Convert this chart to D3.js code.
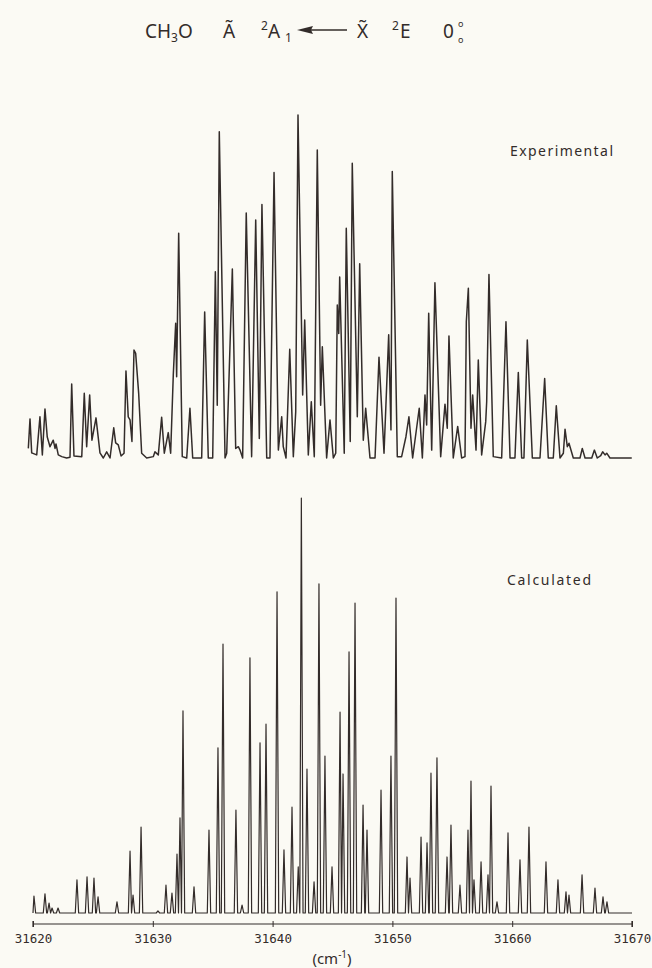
<!DOCTYPE html>
<html>
<head>
<meta charset="utf-8">
<script src="https://cdn.jsdelivr.net/npm/d3@7"></script>
<style>
  body { margin: 0; background: #fbfaf4; }
  svg { display: block; }
</style>
</head>
<body>
<script>
// experimental trace (peaks and valleys), cm-1
var expWave = [31619.61, 31619.75, 31619.89, 31620.31, 31620.58, 31620.78, 31621.00, 31621.19, 31621.42, 31621.69,
  31621.84, 31621.92, 31622.11, 31622.40, 31622.81, 31623.09, 31623.23, 31623.42, 31624.07, 31624.28,
  31624.48, 31624.73, 31624.92, 31625.26, 31625.59, 31625.87, 31626.15, 31626.43, 31626.74, 31626.90,
  31627.12, 31627.35, 31627.60, 31627.76, 31627.95, 31628.10, 31628.26, 31628.43, 31628.57, 31628.82,
  31629.07, 31629.49, 31630.04, 31630.18, 31630.46, 31630.74, 31630.96, 31631.29, 31631.49, 31631.71,
  31631.91, 31631.99, 31632.16, 31632.46, 31632.83, 31633.10, 31633.33, 31634.08, 31634.33, 31634.63,
  31635.00, 31635.22, 31635.38, 31635.55, 31636.03, 31636.17, 31636.64, 31636.92, 31637.14, 31637.28,
  31637.50, 31637.80, 31638.25, 31638.59, 31638.89, 31639.11, 31639.51, 31639.78, 31640.12, 31640.48,
  31640.76, 31640.89, 31641.12, 31641.43, 31641.73, 31641.93, 31642.12, 31642.51, 31642.68, 31642.98,
  31643.23, 31643.48, 31643.73, 31644.01, 31644.15, 31644.51, 31644.79, 31645.07, 31645.27, 31645.40,
  31645.52, 31645.60, 31645.98, 31646.15, 31646.48, 31646.65, 31647.07, 31647.27, 31647.57, 31647.77,
  31648.13, 31648.55, 31648.88, 31649.30, 31649.69, 31649.88, 31649.99, 31650.41, 31650.77, 31651.13,
  31651.38, 31651.69, 31652.24, 31652.50, 31652.72, 31652.86, 31653.03, 31653.28, 31653.55, 31654.03,
  31654.39, 31654.58, 31654.72, 31655.08, 31655.45, 31655.78, 31656.06, 31656.17, 31656.34, 31656.56,
  31656.70, 31656.98, 31657.17, 31657.45, 31657.79, 31657.87, 31658.06, 31658.42, 31659.12, 31659.48,
  31659.82, 31660.23, 31660.51, 31660.79, 31660.98, 31661.26, 31661.68, 31662.32, 31662.71, 31663.01,
  31663.43, 31663.68, 31663.99, 31664.27, 31664.41, 31664.60, 31664.74, 31665.10, 31665.66, 31665.85,
  31666.08, 31666.64, 31666.86, 31667.10, 31667.39, 31667.55, 31667.75, 31667.89, 31668.16, 31669.98];
var expInt = [2.8, 11.4, 1.5, 0.9, 12.0, 0.9, 14.3, 6.1, 3.3, 5.2,
  2.8, 4.1, 0.9, 0.4, 0, 0.2, 21.6, 0.6, 0.4, 18.9,
  3.3, 18.4, 5.2, 11.7, 1.5, 0, 1.8, 0, 8.8, 4.4,
  3.8, 0.6, 1.4, 25.4, 12.0, 11.1, 4.8, 31.5, 30.5, 18.9,
  1.4, 0, 0.4, 1.8, 0.9, 11.9, 1.4, 7.4, 1.4, 24.2,
  39.3, 23.7, 65.5, 0.4, 0, 14.5, 0, 0, 42.6, 0,
  0, 54.3, 15.4, 95.1, 0, 1.4, 55.1, 2.8, 3.3, 2.3,
  0, 71.4, 0.4, 69.4, 5.7, 73.9, 0, 0, 83.2, 2.3,
  12.0, 3.3, 0, 31.7, 0.4, 13.5, 100, 18.4, 40.2, 0.9,
  16.4, 0.4, 89.8, 15.4, 32.4, 0, 11.1, 0, 1.4, 44.6,
  36.3, 52.8, 1.4, 67.0, 4.8, 85.9, 12.0, 56.6, 5.2, 14.5,
  0, 0, 29.4, 1.4, 35.9, 8.2, 83.5, 0.4, 0.4, 6.2,
  12.0, 0, 14.5, 0, 18.4, 9.6, 42.2, 2.3, 51.1, 0.4,
  15.7, 8.7, 35.6, 0, 9.2, 0, 0.4, 39.7, 49.5, 8.7,
  18.4, 2.3, 28.6, 0.9, 10.6, 16.4, 53.5, 0.4, 0, 39.7,
  0, 0, 24.9, 0, 0, 34.4, 0, 0, 23.2, 0,
  0, 15.2, 0, 1.4, 8.4, 3.3, 4.3, 0, 0, 2.8,
  0, 0, 2.3, 0, 0.7, 1.8, 0.9, 1.4, 0, 0];

// calculated spectrum: line positions (cm-1) and relative heights
var calcWave = [31620.08, 31621.00, 31621.34, 31621.59, 31622.09, 31623.67, 31624.51, 31625.09, 31625.43, 31627.01,
  31628.10, 31628.35, 31629.02, 31630.43, 31631.10, 31631.60, 31632.02, 31632.27, 31632.52, 31633.44,
  31634.69, 31635.44, 31635.86, 31636.94, 31637.45, 31638.11, 31638.95, 31639.45, 31640.37, 31640.95,
  31641.62, 31642.14, 31642.40, 31642.87, 31643.46, 31643.87, 31644.37, 31644.96, 31645.63, 31645.88,
  31646.38, 31646.88, 31647.55, 31647.88, 31649.05, 31649.88, 31650.30, 31651.22, 31651.47, 31652.39,
  31652.89, 31653.22, 31653.72, 31654.56, 31654.89, 31655.64, 31656.31, 31656.56, 31656.81, 31657.40,
  31657.98, 31658.23, 31658.73, 31659.65, 31660.65, 31661.40, 31662.82, 31663.82, 31664.49, 31664.74,
  31665.83, 31666.91, 31667.58, 31667.91];
var calcInt = [4.1, 4.6, 2.4, 1.2, 1.2, 8.0, 8.7, 8.4, 3.9, 2.7,
  14.9, 4.3, 20.7, 0.5, 6.7, 4.8, 14.2, 22.9, 48.7, 6.3,
  20.0, 39.8, 64.8, 24.8, 1.9, 61.5, 41.0, 45.5, 77.4, 15.2,
  25.5, 11.1, 100, 34.7, 7.5, 79.3, 37.8, 11.1, 48.4, 33.5,
  62.9, 74.7, 26.0, 20.0, 29.6, 37.8, 75.9, 13.5, 8.4, 18.3,
  16.9, 33.7, 37.4, 13.5, 21.2, 6.7, 20.0, 31.8, 8.0, 12.3,
  9.2, 30.6, 2.7, 19.3, 12.8, 20.7, 12.3, 8.0, 5.1, 4.3,
  9.2, 6.0, 3.9, 2.7];

var xTicks = [31620, 31630, 31640, 31650, 31660, 31670];
var labels = ["Experimental", "Calculated"];

var W = 652, H = 968;
var ink = "#332c2a";

var svg = d3.select("body").append("svg")
    .attr("width", W)
    .attr("height", H);

svg.append("rect").attr("width", W).attr("height", H).attr("fill", "#fbfaf4");

var x = d3.scaleLinear().domain([31620, 31670]).range([33, 632]);
var yExp = d3.scaleLinear().domain([0, 100]).range([458, 115]);
var yCalc = d3.scaleLinear().domain([0, 100]).range([913, 498]);

// experimental trace
var expPts = d3.zip(expWave, expInt);
svg.append("path")
    .datum(expPts)
    .attr("fill", "none")
    .attr("stroke", ink)
    .attr("stroke-width", 1.5)
    .attr("stroke-linejoin", "round")
    .attr("d", d3.line().x(function (d) { return x(d[0]); }).y(function (d) { return yExp(d[1]); }));

// calculated trace: each line drawn as a narrow peak sitting on the baseline
var hw = 0.14;
var calcPts = [[31620, 0]];
var lines = d3.zip(calcWave, calcInt);
lines.forEach(function (d, i) {
    var prev = lines[i - 1], next = lines[i + 1];
    if (!prev || d[0] - prev[0] >= 2 * hw)
        calcPts.push([Math.max(31620, d[0] - hw), 0]);
    calcPts.push(d);
    if (next && next[0] - d[0] < 2 * hw)
        calcPts.push([(d[0] + next[0]) / 2, 0]);
    else
        calcPts.push([d[0] + hw, 0]);
});
calcPts.push([31670, 0]);

svg.append("path")
    .datum(calcPts)
    .attr("fill", "none")
    .attr("stroke", ink)
    .attr("stroke-width", 1.2)
    .attr("stroke-linejoin", "round")
    .attr("d", d3.line().x(function (d) { return x(d[0]); }).y(function (d) { return yCalc(d[1]); }));

// axis
var axis = svg.append("g")
    .attr("transform", "translate(0,924)")
    .call(d3.axisBottom(x)
        .tickValues(xTicks)
        .tickFormat(d3.format("d"))
        .tickSize(3)
        .tickSizeOuter(3)
        .tickPadding(7));
axis.select(".domain").attr("stroke", ink).attr("stroke-width", 1.2).attr("d", "M33,-3V3V0H632V-3V3");
axis.selectAll(".tick line").attr("stroke", ink).attr("y1", -3).attr("y2", 3);
axis.selectAll(".tick text")
    .attr("fill", ink)
    .style("font-family", "'DejaVu Sans Mono', monospace")
    .style("font-size", "12.5px");

var unit = svg.append("text")
    .attr("x", 332)
    .attr("y", 964)
    .attr("text-anchor", "middle")
    .attr("fill", ink)
    .style("font-family", "'Noto Sans', sans-serif")
    .style("font-size", "15px");
unit.append("tspan").text("(cm");
unit.append("tspan").attr("dy", -6).style("font-size", "10px").text("-1");
unit.append("tspan").attr("dy", 6).text(")");

// trace labels
svg.append("text").attr("x", 510).attr("y", 156).attr("textLength", 103)
    .attr("fill", ink).style("font-family", "'Noto Sans', sans-serif").style("font-size", "14px")
    .text(labels[0]);
svg.append("text").attr("x", 507).attr("y", 585).attr("textLength", 84)
    .attr("fill", ink).style("font-family", "'Noto Sans', sans-serif").style("font-size", "14px")
    .text(labels[1]);

// title
var tf = "'Noto Sans', sans-serif";
var title = svg.append("g").attr("fill", ink).style("font-family", tf).style("font-size", "19px");
var t1 = title.append("text").attr("x", 145).attr("y", 38);
t1.append("tspan").text("CH");
t1.append("tspan").attr("dy", 4).style("font-size", "12px").text("3");
t1.append("tspan").attr("dy", -4).text("O");
title.append("text").attr("x", 223).attr("y", 38).text("Ã");
title.append("text").attr("x", 261).attr("y", 30).style("font-size", "12px").text("2");
title.append("text").attr("x", 268).attr("y", 38).text("A");
title.append("text").attr("x", 285).attr("y", 42).style("font-size", "12px").text("1");
title.append("line").attr("x1", 308).attr("x2", 347).attr("y1", 30).attr("y2", 30)
    .attr("stroke", ink).attr("stroke-width", 1.4);
title.append("path").attr("d", "M297,30L313,26L311,30L313,34Z").attr("fill", ink);
title.append("text").attr("x", 357).attr("y", 38).text("X\u0303");
title.append("text").attr("x", 392).attr("y", 30).style("font-size", "12px").text("2");
title.append("text").attr("x", 400).attr("y", 38).text("E");
title.append("text").attr("x", 443).attr("y", 38).text("0");
title.append("text").attr("x", 458).attr("y", 27).style("font-size", "9px").text("o");
title.append("text").attr("x", 458).attr("y", 43).style("font-size", "9px").text("o");
</script>
</body>
</html>
